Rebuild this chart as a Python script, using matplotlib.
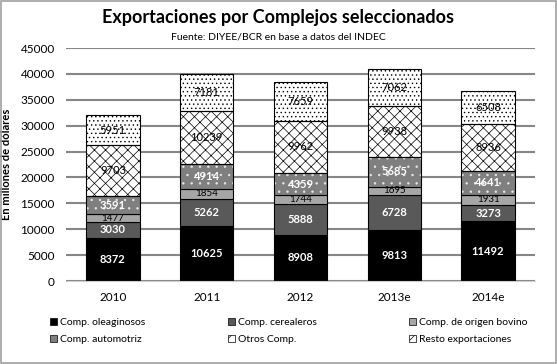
import matplotlib
matplotlib.use("Agg")
import matplotlib.pyplot as plt
import matplotlib.patches as mpatches
import numpy as np

plt.rcParams['font.family'] = ['Lato', 'DejaVu Sans']
plt.rcParams['hatch.linewidth'] = 0.5

years = ["2010", "2011", "2012", "2013e", "2014e"]
oleaginosos = [8372, 10625, 8908, 9813, 11492]
cerealeros = [3030, 5262, 5888, 6728, 3273]
bovino = [1477, 1854, 1744, 1695, 1931]
automotriz = [3591, 4914, 4359, 5685, 4641]
otros = [9703, 10239, 9962, 9938, 8936]
resto = [5951, 7181, 7659, 7062, 6508]

series = [
    ("Comp. oleaginosos", oleaginosos, "black", None, None, "white"),
    ("Comp. cerealeros", cerealeros, "#595959", None, None, "white"),
    ("Comp. de origen bovino", bovino, "#a6a6a6", None, None, "black"),
    ("Comp. automotriz", automotriz, "#7f7f7f", "..", "#e8e8e8", "white"),
    ("Otros Comp.", otros, "white", "xxx", "black", "black"),
    ("Resto exportaciones", resto, "white", "....", "black", "black"),
]

fig = plt.figure(figsize=(5.57, 3.64), dpi=100)
ax = fig.add_axes([66/557, 1 - 281/364, (535-66)/557, (281-48)/364])

x = np.arange(len(years))
w = 0.57
bottom = np.zeros(len(years))
handles = {}
for name, vals, fc, hatch, hc, tc in series:
    vals = np.array(vals)
    if hatch:
        ax.bar(x, vals, w, bottom=bottom, color=fc, edgecolor=hc, hatch=hatch, linewidth=0, zorder=3)
        ax.bar(x, vals, w, bottom=bottom, fill=False, edgecolor="black", linewidth=0.8, zorder=4)
    else:
        ax.bar(x, vals, w, bottom=bottom, color=fc, edgecolor="black", linewidth=0.8, zorder=3)
    fs = 7 if name == "Comp. de origen bovino" else 8
    for xi, b, v in zip(x, bottom, vals):
        ax.text(xi, b + v / 2, str(v), ha="center", va="center", fontsize=fs,
                color=tc, fontweight="bold" if tc == "white" else "normal", zorder=5)
    if hatch and hc == "black":
        handles[name] = mpatches.Patch(facecolor=fc, edgecolor="black", hatch="xx", linewidth=0.5)
    else:
        handles[name] = mpatches.Patch(facecolor=fc, edgecolor="black", linewidth=0.5)
    bottom += vals

ax.set_ylim(0, 45000)
ax.set_xlim(-0.5, len(years) - 0.5)
ax.set_yticks(range(0, 45001, 5000))
ax.set_xticks(x)
ax.set_xticklabels(years)
ax.tick_params(length=0, labelsize=8.5, pad=8)
ax.yaxis.grid(True, color="#868686", linewidth=1.5, zorder=0)
ax.set_axisbelow(True)
for s in ["top", "right", "left"]:
    ax.spines[s].set_visible(False)
ax.spines["bottom"].set_color("#d0d0d0")
ax.spines["bottom"].set_zorder(6)
ax.set_ylabel("En millones de dólares", fontsize=8, fontweight="bold", labelpad=6)

fig.text(0.5, 1 - 18/364, "Exportaciones por Complejos seleccionados", ha="center", va="center",
         fontsize=13, fontweight="bold")
fig.text(0.5, 1 - 37/364, "Fuente: DIYEE/BCR en base a datos del INDEC", ha="center", va="center",
         fontsize=7.5)

names = [s[0] for s in series]
cols = [(names[0], names[3]), (names[1], names[4]), (names[2], names[5])]
col_x = [50, 228, 409]
for cx, pair in zip(col_x, cols):
    fig.legend([handles[n] for n in pair], list(pair), loc="upper left",
               bbox_to_anchor=(cx/557, 1 - 318/364), frameon=False, fontsize=7.5,
               handlelength=0.7, handleheight=0.7, handletextpad=0.3, labelspacing=0.75,
               borderpad=0, borderaxespad=0)

fig.add_artist(mpatches.Rectangle((0.002, 0.002), 0.996, 0.996, transform=fig.transFigure,
                                  fill=False, edgecolor="#a0a0a0", linewidth=1.2))

fig.savefig("out.png", dpi=100)
